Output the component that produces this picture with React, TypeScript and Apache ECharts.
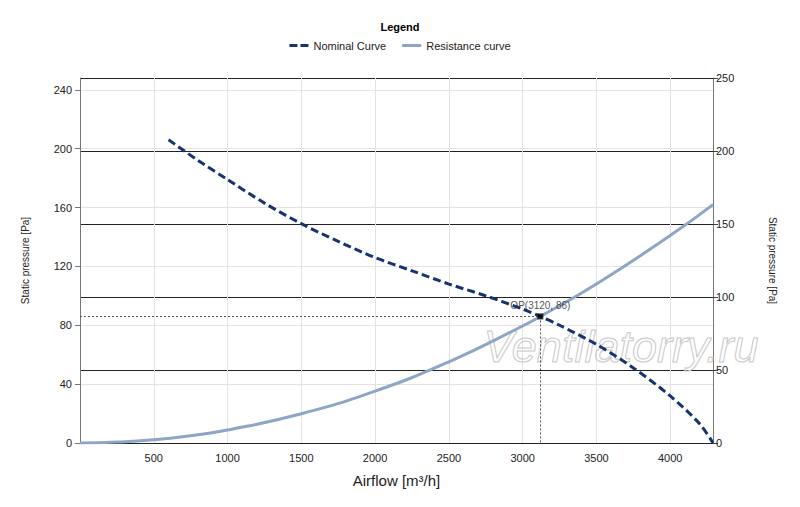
import React, { useEffect, useRef } from "react";
import * as echarts from "echarts";

const nominalCurve: [number, number][] = [
  [600, 206], [800, 192], [1000, 179], [1250, 163], [1500, 149], [1750, 137],
  [2000, 126], [2250, 117], [2500, 108], [2750, 100], [3000, 91], [3120, 86],
  [3250, 80], [3500, 67], [3750, 51], [4000, 32], [4200, 13], [4290, 0],
];
const resistanceCurve: [number, number][] = [
  [0, 0], [250, 0.6], [500, 2.2], [750, 5], [1000, 8.8], [1500, 19.9],
  [2000, 35.3], [2500, 55.2], [3000, 79.5], [3120, 86], [3500, 108],
  [4000, 141], [4290, 162],
];
const operatingPoint: [number, number] = [3120, 86];
const seriesNames = ["Nominal Curve", "Resistance curve"];
const leftTicks = [0, 40, 80, 120, 160, 200, 240];

const FONT = "'Liberation Sans', Arial, sans-serif";

export default function App() {
  const ref = useRef<HTMLDivElement>(null);
  useEffect(() => {
    if (!ref.current) return;
    const chart = echarts.init(ref.current, null, { renderer: "svg" });
    chart.setOption({
      animation: false,
      backgroundColor: "#ffffff",
      textStyle: { fontFamily: FONT },
      title: {
        text: "Legend",
        left: "center",
        top: 16,
        textStyle: { fontSize: 11, fontWeight: "bold", color: "#000", fontFamily: FONT },
      },
      legend: {
        data: [
          { name: seriesNames[0], icon: "path://M0,0h8v3h-8z M11,0h8v3h-8z" },
          { name: seriesNames[1], icon: "path://M0,0h19v3h-19z" },
        ],
        top: 35,
        left: "center",
        itemWidth: 19,
        itemHeight: 3,
        itemGap: 16,
        textStyle: { fontSize: 11, color: "#222", fontFamily: FONT },
      },
      grid: { left: 80, right: 87, top: 78, bottom: 64 },
      xAxis: {
        type: "value",
        min: 0,
        max: 4290,
        interval: 500,
        name: "Airflow [m³/h]",
        nameLocation: "middle",
        nameGap: 30,
        nameTextStyle: { fontSize: 15, color: "#222", fontFamily: FONT },
        axisLine: { show: true, lineStyle: { color: "#222", width: 1 } },
        axisTick: { show: false },
        axisLabel: {
          showMinLabel: false,
          showMaxLabel: false,
          fontSize: 11,
          color: "#222",
          margin: 9,
          formatter: (v: number) => String(v),
        },
        splitLine: { show: true, lineStyle: { color: "#e3e3e3", width: 1 } },
      },
      yAxis: [
        {
          type: "value",
          min: 0,
          max: 248,
          interval: 40,
          position: "left",
          name: "Static pressure [Pa]",
          nameLocation: "middle",
          nameGap: 50,
          nameRotate: 90,
          nameTextStyle: { fontSize: 10, color: "#222", fontFamily: FONT },
          axisLine: { show: true, lineStyle: { color: "#777", width: 1 } },
          axisTick: { show: true, length: 5, lineStyle: { color: "#777" }, customValues: leftTicks },
          axisLabel: {
            fontSize: 11,
            color: "#222",
            margin: 8,
            customValues: leftTicks,
            formatter: (v: number) => (v % 40 === 0 ? String(v) : ""),
          },
          splitLine: { show: true, lineStyle: { color: "#e3e3e3", width: 1 } },
        },
        {
          type: "value",
          min: 0,
          max: 250,
          interval: 50,
          position: "right",
          name: "Static pressure [Pa]",
          nameLocation: "middle",
          nameGap: 54,
          nameRotate: -90,
          nameTextStyle: { fontSize: 10, color: "#222", fontFamily: FONT },
          axisLine: { show: true, lineStyle: { color: "#777", width: 1 } },
          axisTick: { show: true, length: 5, lineStyle: { color: "#444" } },
          axisLabel: { fontSize: 11, color: "#222", margin: 3 },
          splitLine: { show: true, lineStyle: { color: "#222", width: 1 } },
        },
      ],
      graphic: [
        {
          type: "text",
          left: 483,
          top: 323,
          z: 1,
          silent: true,
          style: {
            text: "Ventilatorry.ru",
            font: `italic 45px ${FONT}`,
            lineHeight: 28,
            fill: "rgba(255,255,255,0)",
            stroke: "#c8c8c8",
            lineWidth: 1,
          },
        },
      ],
      series: [
        {
          name: seriesNames[0],
          type: "line",
          yAxisIndex: 0,
          data: nominalCurve,
          smooth: 0.3,
          symbol: "none",
          z: 3,
          lineStyle: { color: "#173470", width: 3, type: [8, 4] },
          itemStyle: { color: "#173470" },
          markLine: {
            silent: true,
            symbol: "none",
            label: { show: false },
            lineStyle: { color: "#555", width: 1, type: [2, 2] },
            data: [
              [{ coord: [0, operatingPoint[1]] }, { coord: operatingPoint }],
              [{ coord: operatingPoint }, { coord: [operatingPoint[0], 0] }],
            ],
          },
        },
        {
          name: seriesNames[1],
          type: "line",
          yAxisIndex: 0,
          data: resistanceCurve,
          smooth: true,
          symbol: "none",
          z: 2,
          lineStyle: { color: "#8ea6c6", width: 3 },
          itemStyle: { color: "#8ea6c6" },
        },
        {
          name: "OP",
          type: "scatter",
          yAxisIndex: 0,
          data: [operatingPoint],
          symbol: "rect",
          symbolSize: 6,
          z: 5,
          itemStyle: { color: "#000" },
          label: {
            show: true,
            position: "top",
            distance: 3,
            fontSize: 10,
            color: "#222",
            formatter: () => `OP(${operatingPoint[0]}, ${operatingPoint[1]})`,
          },
        },
      ],
    });
    return () => chart.dispose();
  }, []);
  return (
    <div
      ref={ref}
      style={{ position: "fixed", left: 0, top: 0, width: 800, height: 507 }}
    />
  );
}
